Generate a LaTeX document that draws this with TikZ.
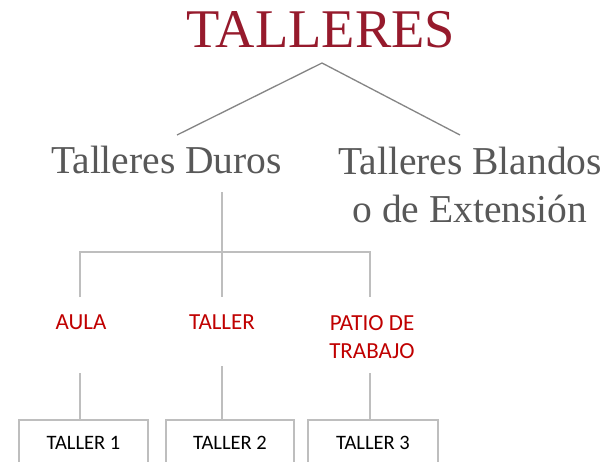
\documentclass[tikz,border=0pt]{standalone}
\usepackage{fontspec}
\setmainfont{Liberation Serif}
\newfontfamily\carlito{Carlito}
\definecolor{titlered}{HTML}{961A2C}
\definecolor{subgray}{HTML}{585858}
\definecolor{linegray}{HTML}{BEBEBE}
\definecolor{darkline}{HTML}{858585}
\definecolor{labelred}{HTML}{C00000}
\tikzset{
  titlest/.style={anchor=base, inner sep=0pt, text=titlered, font=\fontsize{54.5}{60}\selectfont},
  subst/.style={anchor=base, inner sep=0pt, text=subgray, font=\fontsize{39.5}{48}\selectfont},
  lab/.style={anchor=base, inner sep=0pt, text=labelred, font=\carlito\fontsize{23}{28}\selectfont},
  boxst/.style={draw=linegray, line width=2pt, anchor=north west, minimum height=46pt, inner sep=0pt, font=\carlito\fontsize{20.5}{24}\selectfont, text=black},
  topline/.style={draw=darkline, line width=1.3pt},
  gline/.style={draw=linegray, line width=2.4pt}
}
\begin{document}
\begin{tikzpicture}[x=1pt,y=-1pt]
\useasboundingbox (0,0) rectangle (615,461);
\clip (0,0) rectangle (615,461);
\fill[white] (0,0) rectangle (615,461);
% texts
\node[titlest] (title) at (321,47) {TALLERES};
\node[subst] (duros) at (166.5,173) {Talleres Duros};
\node[subst] (blandos) at (470,174) {\begin{tabular}[t]{@{}c@{}}Talleres Blandos\\o de Extensión\end{tabular}};
\node[lab] (aula) at (81,329) {AULA};
\node[lab] (taller) at (222,329) {TALLER};
\node[lab] (patio) at (372,330) {\begin{tabular}[t]{@{}c@{}}PATIO DE\\TRABAJO\end{tabular}};
% boxes
\node[boxst, minimum width=129pt] (b1) at (18,419) {TALLER 1};
\node[boxst, minimum width=128pt] (b2) at (165,419) {TALLER 2};
\node[boxst, minimum width=130pt] (b3) at (307,419) {TALLER 3};
% connector points
\coordinate (apex) at (322,63);
\coordinate (lend) at (177,135);
\coordinate (rend) at (460,135);
\coordinate (dtop) at (222,192);
\coordinate (mbar) at (222,252);
\coordinate (mlow) at (222,297);
\coordinate (alow) at (80,297);
\coordinate (plow) at (370,297);
\coordinate (atop) at (80,373);
\coordinate (ttop) at (222,366);
\coordinate (ptop) at (370,373);
% connectors
\draw[topline] (lend) -- (apex) -- (rend);
\draw[gline] (dtop) -- (mlow);
\draw[gline] (alow) |- (mbar) -| (plow);
\draw[gline] (atop) -- (atop |- b1.north);
\draw[gline] (ttop) -- (ttop |- b2.north);
\draw[gline] (ptop) -- (ptop |- b3.north);
\end{tikzpicture}
\end{document}
